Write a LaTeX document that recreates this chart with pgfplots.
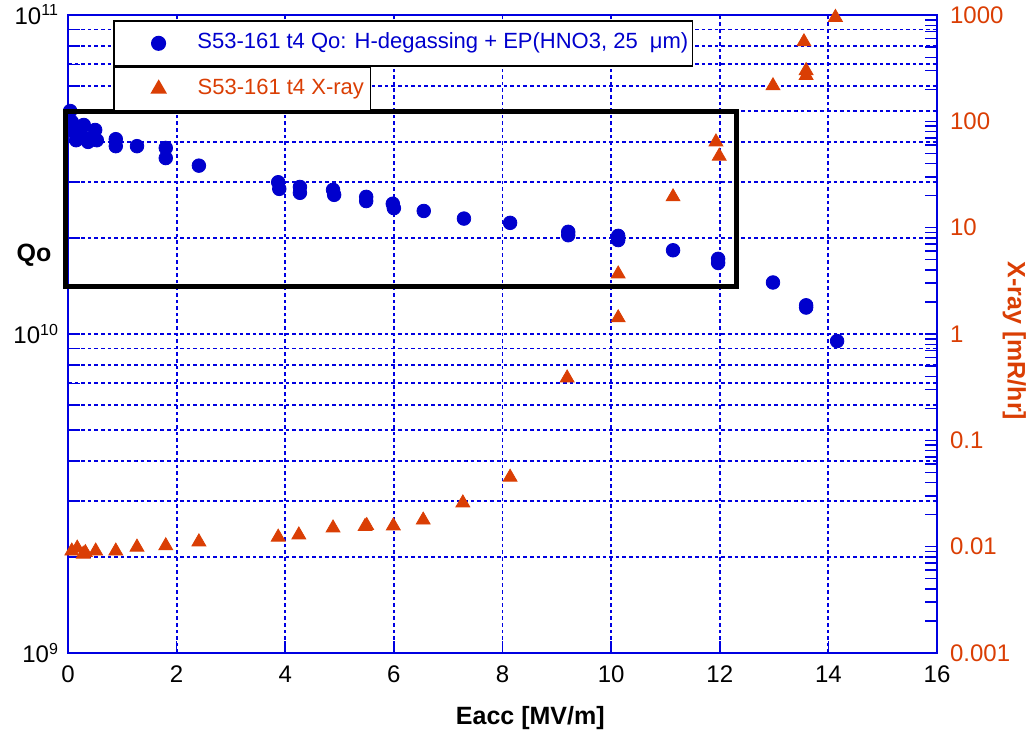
\documentclass[border=0pt]{standalone}
\usepackage{pgfplots}
\pgfplotsset{compat=1.18}
\usepackage{fontspec}
\setmainfont{Liberation Sans}
\definecolor{qblue}{RGB}{0,0,205}
\definecolor{gblue}{RGB}{0,0,225}
\definecolor{xred}{RGB}{218,62,4}
\pgfplotstableread{
E Q
0.04 5.00e10
0.07 4.62e10
0.11 4.30e10
0.15 4.05e10
0.20 4.42e10
0.29 4.52e10
0.33 4.11e10
0.37 4.00e10
0.50 4.36e10
0.53 4.05e10
0.88 4.08e10
0.88 3.88e10
1.27 3.88e10
1.80 3.83e10
1.80 3.56e10
2.41 3.37e10
3.87 2.99e10
3.89 2.85e10
4.27 2.89e10
4.27 2.77e10
4.88 2.83e10
4.90 2.73e10
5.49 2.69e10
5.49 2.61e10
5.98 2.56e10
6.00 2.48e10
6.55 2.43e10
7.29 2.30e10
8.14 2.23e10
9.21 2.09e10
9.21 2.04e10
10.13 2.03e10
10.13 1.97e10
11.14 1.83e10
11.97 1.72e10
11.97 1.67e10
12.98 1.45e10
13.59 1.23e10
13.59 1.21e10
14.16 9.5e9
}\qodata
\pgfplotstableread{
E X
0.07 0.0091
0.17 0.0097
0.28 0.0085
0.32 0.0088
0.51 0.0091
0.88 0.0091
1.27 0.0099
1.80 0.0102
2.41 0.0111
3.87 0.0123
4.25 0.0129
4.88 0.0150
5.47 0.0155
5.50 0.0158
5.99 0.0157
6.54 0.0178
7.27 0.0258
8.14 0.045
9.19 0.386
10.13 1.42
10.13 3.67
11.14 19.5
11.93 64
11.99 47
12.98 216
13.55 560
13.59 270
13.59 300
14.13 950
}\xraydata
\begin{document}
\begin{tikzpicture}
\pgfplotsset{
  every axis/.append style={
    scale only axis, width=434.5pt, height=319pt,
    xmin=0, xmax=16, clip=false,
    axis line style={gblue, line width=1.2pt},
    tick style={gblue, line width=0.8pt},
    major tick length=6pt, minor tick length=6pt,
    tick align=inside,
    ticklabel style={font=\fontsize{12}{14}\selectfont},
    legend cell align=left,
    legend image code/.code={\draw[#1] plot coordinates {(0pt,0pt)};},
  },
}
\begin{axis}[
  ymode=log, ymin=1e9, ymax=1e11,
  xtick={0,2,4,6,8,10,12,14,16},
  xticklabels={0,2,4,6,8,10,12,14,16},
  ytick={1e9,1e10,1e11},
  yticklabels={10\textsuperscript{9},10\textsuperscript{10},10\textsuperscript{11}},
  minor ytick={2e9,3e9,4e9,5e9,6e9,7e9,8e9,9e9,2e10,3e10,4e10,5e10,6e10,7e10,8e10,9e10},
  xtick pos=bottom, ytick pos=left,
  xticklabel style={yshift=-3pt},
  yticklabel style={xshift=-1pt},
  grid=both,
  grid style={draw=gblue, line width=0.9pt, dash pattern=on 1.8pt off 1.5pt},
  major grid style={draw=gblue, line width=0.9pt, dash pattern=on 1.8pt off 1.5pt},
  minor grid style={draw=gblue, line width=0.9pt, dash pattern=on 1.8pt off 1.5pt},
  xlabel={Eacc [MV/m]},
  xlabel style={font=\fontsize{12.5}{15}\selectfont\bfseries, at={(axis description cs:0.532,-0.102)}, anchor=center},
  ylabel={Qo},
  ylabel style={font=\fontsize{12.5}{15}\selectfont\bfseries, rotate=-90, at={(axis description cs:-0.039,0.624)}, anchor=center},
  legend style={at={(rel axis cs:0.0518,0.992)}, anchor=north west, draw=black, line width=0.75pt, fill=white,
    inner xsep=19pt, inner ysep=6pt, column sep=16pt, font=\fontsize{11}{13}\selectfont,
    nodes={inner sep=0pt, text height=8pt, text depth=2.5pt}},
]
\coordinate (O) at (rel axis cs:0,0);
\addplot[only marks, mark=*, mark size=3.4pt, color=qblue, mark options={fill=qblue, draw=qblue}] table[x=E, y=Q] {\qodata};
\addlegendentry{\makebox[228.5pt][l]{\textcolor{qblue}{S53-161 t4 Qo: H-degassing + EP(HNO3, 25~~μm)}}}
\end{axis}
\begin{axis}[
  ymode=log, ymin=1e-3, ymax=1e3,
  axis y line*=right, axis x line=none,
  ytick={1e-3,1e-2,1e-1,1,10,100,1000},
  yticklabels={0.001,0.01,0.1,1,10,100,1000},
  minor ytick={},
  yticklabel style={xred, xshift=3pt},
  ylabel={X-ray [mR/hr]},
  ylabel style={font=\fontsize{12.5}{15}\selectfont\bfseries, xred, rotate=180, at={(axis description cs:1.089,0.489)}, anchor=center},
  legend style={at={(rel axis cs:0.0518,0.920)}, anchor=north west, draw=black, line width=0.75pt, fill=white,
    inner xsep=19pt, inner ysep=5.75pt, column sep=16pt, font=\fontsize{11}{13}\selectfont,
    nodes={inner sep=0pt, text height=8pt, text depth=2.5pt}},
]
\addplot[only marks, mark=triangle*, mark size=4pt, color=xred, mark options={fill=xred, draw=xred}] table[x=E, y=X] {\xraydata};
\addlegendentry{\makebox[67.5pt][l]{\textcolor{xred}{S53-161 t4 X-ray}}}
\draw[line width=2.5pt, black] (rel axis cs:-0.0023,0.5737) rectangle (rel axis cs:0.7687,0.8495);
\end{axis}
\pgfresetboundingbox
\path (O) ++(-34pt,-41pt) rectangle ++(513pt,367.5pt);
\end{tikzpicture}
\end{document}
